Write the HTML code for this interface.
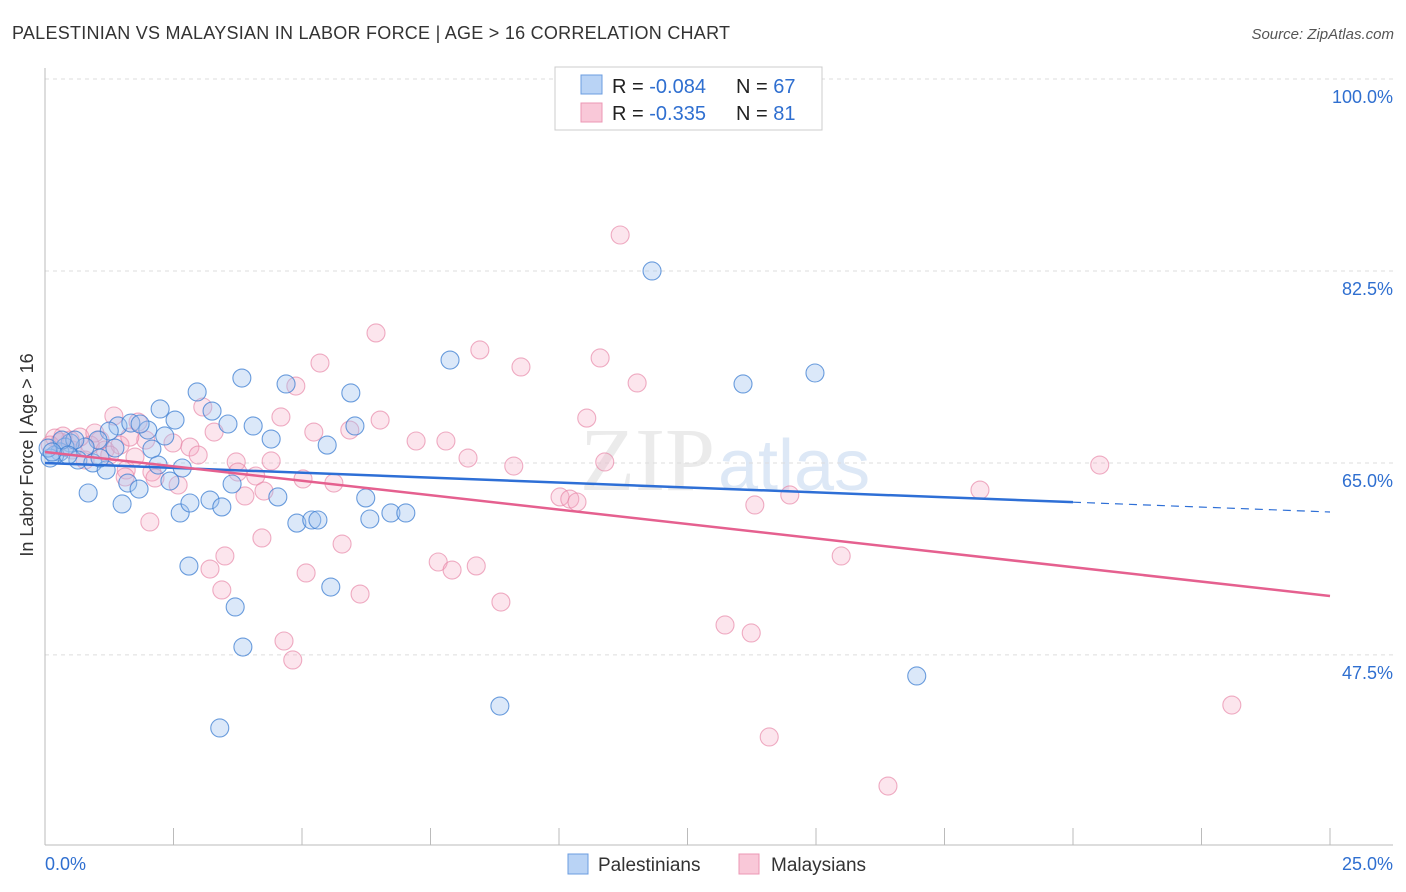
<!DOCTYPE html>
<html><head><meta charset="utf-8"><style>
body{margin:0;background:#fff;font-family:"Liberation Sans",sans-serif;}
svg{display:block}
</style></head><body>
<svg id="chart" width="1406" height="892">
<text x="12" y="39" font-size="18" fill="#333" textLength="718">PALESTINIAN VS MALAYSIAN IN LABOR FORCE | AGE &gt; 16 CORRELATION CHART</text>
<text x="1394" y="39" font-size="15" fill="#555" text-anchor="end" font-style="italic">Source: ZipAtlas.com</text>
<text x="715" y="490" font-size="90" fill="#ebebeb" text-anchor="end" font-family="Liberation Serif">ZIP</text>
<text x="718" y="490" font-size="72" fill="#dde8f6">atlas</text>
<g id="grid"></g>
<g id="axes"></g>
<g id="pts"></g>
<g id="lines"></g>
<text x="33" y="455" font-size="18" fill="#333" text-anchor="middle" transform="rotate(-90 33 455)">In Labor Force | Age &gt; 16</text>
<g>
<rect x="555" y="67" width="267" height="63" fill="#fff" stroke="#ccc"/>
<rect x="581" y="75" width="21" height="19" fill="#b9d3f5" stroke="#6b9de0"/>
<rect x="581" y="103" width="21" height="19" fill="#f9c8d8" stroke="#ec97b4"/>
<text x="612" y="93" font-size="20" fill="#222">R = <tspan fill="#2f6fd0">-0.084</tspan></text>
<text x="736" y="93" font-size="20" fill="#222">N = <tspan fill="#2f6fd0">67</tspan></text>
<text x="612" y="120" font-size="20" fill="#222">R = <tspan fill="#2f6fd0"> -0.335</tspan></text>
<text x="736" y="120" font-size="20" fill="#222">N = <tspan fill="#2f6fd0"> 81</tspan></text>
</g>
<g>
<rect x="568" y="854" width="20" height="20" fill="#b9d3f5" stroke="#6b9de0"/>
<text x="598" y="871" font-size="19" fill="#333">Palestinians</text>
<rect x="739" y="854" width="20" height="20" fill="#f9c8d8" stroke="#ec97b4"/>
<text x="771" y="871" font-size="19" fill="#333">Malaysians</text>
</g>
</svg>
<script>
const yTicks=[100,82.5,65,47.5];
const yTickLabels=["100.0%","82.5%","65.0%","47.5%"];
const xEndLabels=["0.0%","25.0%"];
const blueX=[11.81,14.98,13.58,7.88,3.83,4.69,5.95,2.96,2.24,3.25,2.53,3.56,4.05,6.03,1.42,1.67,2.33,1.25,2.00,4.40,5.49,1.03,0.78,0.49,0.29,0.64,0.93,2.08,1.19,2.67,2.20,1.61,2.43,1.83,3.64,0.84,1.50,2.63,2.82,3.21,3.44,4.53,6.24,4.90,5.19,5.31,6.32,6.73,7.02,2.80,5.56,3.70,3.85,8.85,3.40,16.96,0.19,0.10,0.39,0.58,0.06,0.33,1.07,0.45,1.36,0.14,1.85];
const blueY=[82.50,73.20,72.20,74.38,72.74,72.20,71.38,71.47,69.92,69.73,68.91,68.55,68.37,68.37,68.37,68.64,67.46,67.91,68.0,67.18,66.63,67.09,66.45,66.82,66.0,65.27,65.0,66.27,64.36,64.54,64.81,63.17,63.35,62.62,63.08,62.26,61.26,60.44,61.35,61.62,60.99,61.90,61.81,59.52,59.80,59.80,59.89,60.44,60.44,55.60,53.69,51.87,48.22,42.84,40.84,45.58,65.72,65.45,66.45,67.09,66.36,67.09,65.45,65.72,66.36,66.0,68.55];
const pinkX=[11.19,6.44,8.46,5.35,10.80,9.26,4.88,11.52,3.07,1.34,4.59,6.52,10.54,1.81,3.29,5.23,5.93,7.22,7.80,1.96,2.49,2.82,2.98,3.72,4.40,8.23,9.12,10.89,20.52,1.58,2.08,3.75,2.14,4.10,5.02,5.62,2.59,1.56,4.26,3.89,10.02,10.21,10.35,13.81,14.49,18.19,2.04,4.22,5.78,3.50,3.21,7.65,7.92,8.39,5.08,15.49,3.44,6.13,8.87,4.65,13.23,13.74,4.82,14.09,16.40,23.09,1.07,0.88,0.68,0.49,0.29,1.17,1.46,1.65,0.97,1.26,0.78,0.53,0.35,0.19,0.10,1.75];
const pinkY=[85.78,76.85,75.30,74.11,74.57,73.75,72.01,72.29,70.10,69.28,69.19,68.91,69.09,68.73,67.82,67.82,68.0,67.0,67.0,67.09,66.82,66.45,65.72,65.09,65.18,65.45,64.72,65.09,64.81,64.36,64.17,64.17,63.63,63.81,63.54,63.17,62.99,63.72,62.44,61.99,61.90,61.71,61.44,61.17,62.08,62.53,59.62,58.16,57.61,56.52,55.33,55.97,55.24,55.61,54.97,56.52,53.42,53.05,52.32,48.77,50.23,49.50,47.04,40.02,35.55,42.93,67.09,66.63,67.36,67.09,66.91,66.18,66.63,67.36,67.73,65.72,65.27,66.18,67.45,67.27,66.63,65.54];
const blueTrend=[65.0,60.53];
const pinkTrend=[66.0,52.87];
const NS='http://www.w3.org/2000/svg';
const X=v=>45+v/25*1285;
const Y=v=>79+(100-v)*10.97;
function mk(tag,attrs,parent){const e=document.createElementNS(NS,tag);for(const k in attrs)e.setAttribute(k,attrs[k]);document.getElementById(parent).appendChild(e);return e;}
yTicks.forEach((t,i)=>{
 const g=mk('line',{x1:45,x2:1393,y1:Y(t),y2:Y(t),stroke:'#ddd','stroke-dasharray':'4,4'},'grid');
 
 
 const l=mk('text',{x:1393,y:Y(t)+24,'font-size':18,fill:'#2f6fd0','text-anchor':'end'},'grid');
 l.textContent=yTickLabels[i];
 
 
});
mk('line',{x1:45,x2:45,y1:68,y2:845,stroke:'#bbb'},'axes');
mk('line',{x1:45,x2:1393,y1:845,y2:845,stroke:'#bbb'},'axes');
for(let i=0;i<=10;i++){const t=mk('line',{x1:X(i*2.5),x2:X(i*2.5),y1:828,y2:845,stroke:'#bbb'},'axes');
 
 }
const xl0=mk('text',{x:45,y:870,'font-size':18,fill:'#2f6fd0'},'axes');xl0.textContent=xEndLabels[0];


const xl1=mk('text',{x:1393,y:870,'font-size':18,fill:'#2f6fd0','text-anchor':'end'},'axes');xl1.textContent=xEndLabels[1];


pinkX.forEach((v,i)=>{const c=mk('circle',{cx:X(v),cy:Y(pinkY[i]),r:9,fill:'rgba(245,170,195,0.3)',stroke:'rgba(230,130,165,0.65)','stroke-width':1.1},'pts');
 
 });
blueX.forEach((v,i)=>{const c=mk('circle',{cx:X(v),cy:Y(blueY[i]),r:9,fill:'rgba(160,195,240,0.38)',stroke:'rgba(60,125,210,0.75)','stroke-width':1.1},'pts');
 
 });
const bAt=x=>blueTrend[0]+(blueTrend[1]-blueTrend[0])*x/25;
const b1=mk('line',{x1:X(0),y1:Y(bAt(0)),x2:X(20),y2:Y(bAt(20)),stroke:'#2e6fd6','stroke-width':2.5},'lines');


const b2=mk('line',{x1:X(20),y1:Y(bAt(20)),x2:X(25),y2:Y(bAt(25)),stroke:'#2e6fd6','stroke-width':1.2,'stroke-dasharray':'8,6'},'lines');


const p1=mk('line',{x1:X(0),y1:Y(pinkTrend[0]),x2:X(25),y2:Y(pinkTrend[1]),stroke:'#e5608f','stroke-width':2.5},'lines');


</script>
</body></html>
